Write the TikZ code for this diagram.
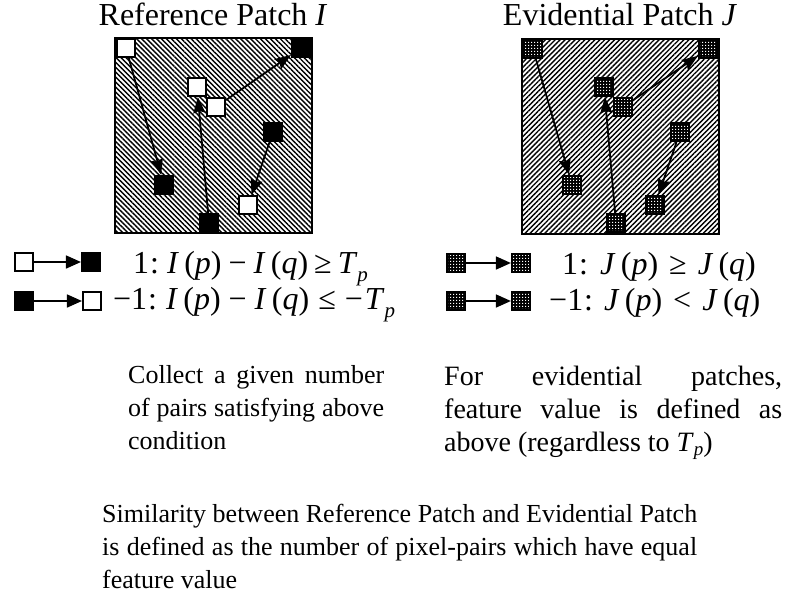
\documentclass[tikz,border=0pt]{standalone}
\usepackage{fontspec}
\setmainfont{Liberation Serif}
\usetikzlibrary{patterns,patterns.meta,arrows.meta}

\tikzdeclarepattern{
  name=whitedots,
  type=uncolored,
  bottom left={(0pt,0pt)},
  top right={(3pt,3pt)},
  tile size={(3pt,3pt)},
  code={\fill (0pt,0pt) rectangle (1.5pt,1.5pt);}
}

\newcommand{\mi}[1]{\textit{#1}}
\newcommand{\subp}{\raisebox{-8pt}{\fontsize{21}{24}\selectfont\textit{p}}}

\tikzset{
  patchI/.style={draw=black, line width=1.6pt, pattern={Lines[angle=-45,distance=3.5pt,line width=1.4pt]}},
  patchJ/.style={draw=black, line width=1.6pt, pattern={Lines[angle=45,distance=3.5pt,line width=1.4pt]}},
  sq/.style={draw=black, line width=1.6pt, minimum size=18.5pt, inner sep=0pt},
  whitesq/.style={sq, fill=white},
  blacksq/.style={sq, fill=black},
  chksq/.style={sq, line width=2.2pt, minimum size=18pt, preaction={fill=black}, pattern=whitedots, pattern color=white},
  arr/.style={-{Stealth[length=16pt,width=12pt,inset=2pt]}, line width=1.8pt},
  legarr/.style={-{Triangle[length=15pt,width=13pt]}, line width=1.6pt},
  title/.style={font=\fontsize{32}{38}\selectfont, inner sep=0pt, anchor=base},
  eq/.style={font=\fontsize{32}{36}\selectfont, inner sep=0pt, anchor=base west},
  para/.style={inner sep=0pt, anchor=north west, align=justify},
}

\begin{document}
\begin{tikzpicture}[x=1pt,y=-1pt]
\useasboundingbox[fill=white] (0,0) rectangle (795,595);

% titles
\node[title] (tI) at (213,25) {Reference Patch \mi{I}};
\node[title] (tJ) at (620,25) {Evidential Patch \mi{J}};

% patch boxes
\draw[patchI] (115,38) rectangle (312,233);
\draw[patchJ] (522,39) rectangle (719,234);

% squares of patch I
\node[whitesq] (i1) at (126,48) {};
\node[blacksq] (i2) at (301,48) {};
\node[whitesq] (i3) at (197,87) {};
\node[whitesq] (i4) at (216,107) {};
\node[blacksq] (i5) at (273,132) {};
\node[blacksq] (i6) at (164,185) {};
\node[whitesq] (i7) at (248,205) {};
\node[blacksq] (i8) at (209,223) {};
\draw[arr] (i1) -- (i6);
\draw[arr] (i4) -- (i2);
\draw[arr] (i8) -- (i3);
\draw[arr] (i5) -- (i7);

% squares of patch J
\node[chksq] (j1) at (533,49) {};
\node[chksq] (j2) at (708,49) {};
\node[chksq] (j3) at (604,87) {};
\node[chksq] (j4) at (623,107) {};
\node[chksq] (j5) at (680,132) {};
\node[chksq] (j6) at (572,185) {};
\node[chksq] (j7) at (655,205) {};
\node[chksq] (j8) at (616,223) {};
\draw[arr] (j1) -- (j6);
\draw[arr] (j4) -- (j2);
\draw[arr] (j8) -- (j3);
\draw[arr] (j5) -- (j7);

% legend left
\node[whitesq] (la1) at (24,262) {};
\node[blacksq] (lb1) at (91,262) {};
\draw[legarr] (la1) -- (lb1);
\node[blacksq] (la2) at (24,301) {};
\node[whitesq] (lb2) at (92,301) {};
\draw[legarr] (la2) -- (lb2);
\node[eq] (e1) at (133,273) {1\kern1pt:\hspace{8pt}\mi{I}\,(\mi{p})\hspace{7pt}−\hspace{7pt}\mi{I}\,(\mi{q})\hspace{6pt}≥\hspace{6pt}\mi{T}\subp};
\node[eq] (e2) at (113,309) {−1\kern1pt:\hspace{9pt}\mi{I}\,(\mi{p})\hspace{8pt}−\hspace{8pt}\mi{I}\,(\mi{q})\hspace{9pt}≤\hspace{9pt}−\kern2pt\mi{T}\subp};

% legend right
\node[chksq] (ra1) at (456,263) {};
\node[chksq] (rb1) at (521,263) {};
\draw[legarr] (ra1) -- (rb1);
\node[chksq] (ra2) at (456,301) {};
\node[chksq] (rb2) at (521,301) {};
\draw[legarr] (ra2) -- (rb2);
\node[eq] (e3) at (562,274) {1\kern1pt:\hspace{12pt}\mi{J}\,(\mi{p})\hspace{11pt}≥\hspace{11pt}\mi{J}\,(\mi{q})};
\node[eq] (e4) at (549,310) {−1\kern1pt:\hspace{11pt}\mi{J}\,(\mi{p})\hspace{11pt}<\hspace{11pt}\mi{J}\,(\mi{q})};

% paragraphs
\node[para, text width=256pt, font=\fontsize{26}{33}\selectfont] (pL) at (128,365) {Collect a given number\linebreak of pairs satisfying above\linebreak condition};
\node[para, text width=338pt, font=\fontsize{28}{33}\selectfont] (pR) at (444,366) {For evidential patches,\linebreak feature value is defined as\linebreak above (regardless to \mi{T}\raisebox{-4pt}{\fontsize{19}{20}\selectfont\mi{p}})};
\node[para, text width=595pt, font=\fontsize{26}{33}\selectfont] (pB) at (102,504) {Similarity between Reference Patch and Evidential Patch\linebreak is defined as the number of pixel-pairs which have equal\linebreak feature value};
\end{tikzpicture}
\end{document}
